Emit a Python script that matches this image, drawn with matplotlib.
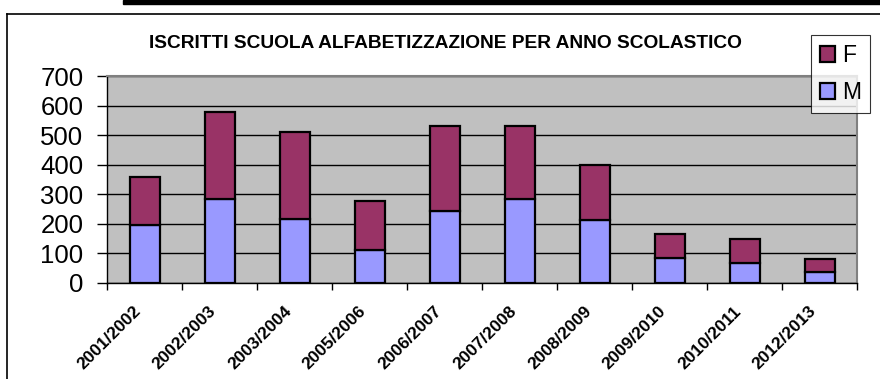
import numpy as np
import matplotlib
matplotlib.use("Agg")
import matplotlib.pyplot as plt
import matplotlib.transforms as mtransforms
from matplotlib.lines import Line2D
from matplotlib.patches import Rectangle

# school years and enrolled students (M bottom, F on top)
years = ["2001/2002", "2002/2003", "2003/2004", "2005/2006", "2006/2007",
         "2007/2008", "2008/2009", "2009/2010", "2010/2011", "2012/2013"]
males = [195, 285, 215, 110, 244, 285, 213, 85, 69, 37]
totals = [360, 578, 510, 277, 531, 531, 399, 165, 150, 81]
females = [t - m for t, m in zip(totals, males)]

plt.rcParams['font.family'] = ['Liberation Sans', 'DejaVu Sans']

fig = plt.figure(figsize=(8.8, 3.79), dpi=100)
ax = fig.add_axes([107 / 880, 1 - 283 / 379, 750 / 880, 207 / 379])

# chart frame and black band at top
fig.add_artist(Line2D([7 / 880, 1], [1 - 13.5 / 379] * 2, color="black", lw=1.2,
                      transform=fig.transFigure))
fig.add_artist(Line2D([7 / 880] * 2, [0, 1 - 13.5 / 379], color="black", lw=1.2,
                      transform=fig.transFigure))
fig.add_artist(Rectangle((123 / 880, 1 - 3.5 / 379), 1, 3.5 / 379, color="black",
                         transform=fig.transFigure))

x = np.arange(len(years))
ax.bar(x, males, width=0.4, color="#9999FF", edgecolor="black", linewidth=1.6,
       label="M", zorder=3)
ax.bar(x, females, width=0.4, bottom=males, color="#993366", edgecolor="black",
       linewidth=1.6, label="F", zorder=3)

ax.set_facecolor("#C0C0C0")
ax.set_xlim(-0.5, len(years) - 0.5)
ax.set_ylim(0, 700)
ax.set_yticks(range(0, 701, 100))
ax.yaxis.grid(True, color="black", linewidth=1.0, zorder=1)
ax.set_axisbelow(True)
ax.tick_params(axis="y", labelsize=18.5, length=7, width=1, pad=10)

ax.set_xticks(np.arange(len(years) + 1) - 0.5)
ax.set_xticklabels([])
ax.set_xticks(x, minor=True)
ax.set_xticklabels(years, minor=True, rotation=45, ha="right", va="top",
                   rotation_mode="anchor", fontsize=12.5, fontweight="bold")
ax.tick_params(axis="x", which="major", length=5, width=1)
ax.tick_params(axis="x", which="minor", length=0, pad=12)
shift = mtransforms.ScaledTranslation(-11 / 100, -4 / 100, fig.dpi_scale_trans)
for lbl in ax.get_xticklabels(minor=True):
    lbl.set_transform(lbl.get_transform() + shift)

for side in ["top", "right"]:
    ax.spines[side].set_color("#808080")
    ax.spines[side].set_linewidth(1.5)
for side in ["left", "bottom"]:
    ax.spines[side].set_color("black")
    ax.spines[side].set_linewidth(1)

fig.text(445 / 880, 1 - 44 / 379, "ISCRITTI SCUOLA ALFABETIZZAZIONE PER ANNO SCOLASTICO",
         ha="center", va="center", fontsize=13.8, fontweight="bold")

handles, labels = ax.get_legend_handles_labels()
leg = fig.legend(handles[::-1], labels[::-1], loc="upper left",
                 bbox_to_anchor=(811 / 880, 1 - 35 / 379), fontsize=16.5,
                 frameon=True, fancybox=False, edgecolor="black",
                 handlelength=0.65, handleheight=0.65, handletextpad=0.3,
                 borderpad=0.4, labelspacing=0.6, borderaxespad=0)
leg.get_frame().set_linewidth(0.8)

fig.savefig("out.png", dpi=100)
